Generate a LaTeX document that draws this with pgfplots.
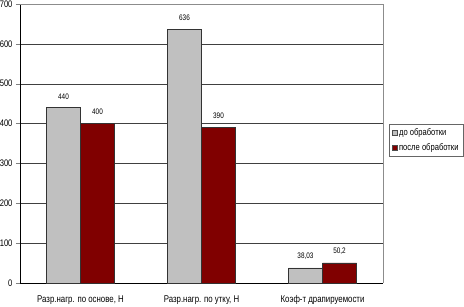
\documentclass[border=0pt]{standalone}
\usepackage{fontspec}
\setmainfont{Liberation Sans}[FakeStretch=0.8]
\usepackage{pgfplots}
\pgfplotsset{compat=1.18}
\definecolor{barsilver}{RGB}{192,192,192}
\definecolor{barmaroon}{RGB}{128,0,0}
\begin{document}
\begin{tikzpicture}
\begin{axis}[
  scale only axis, width=363pt, height=279pt,
  ybar=0pt, bar width=34pt,
  xmin=-0.5, xmax=2.5, ymin=0, ymax=700,
  axis x line*=bottom, axis y line*=left,
  axis line style={black, thin}, 
  xtick={0,1,2},
  xticklabels={{Разр.нагр. по основе, Н},{Разр.нагр. по утку, Н},{Коэф-т драпируемости}},
  x tick label style={font=\fontsize{9.8}{10}\selectfont, yshift=-5pt},
  major x tick style={draw=none},
  extra x ticks={0.5,1.5}, extra x tick labels={},
  extra x tick style={major tick length=4pt, tick style={black, thin}, grid=none},
  ytick={0,100,...,700},
  y tick label style={font=\fontsize{9.5}{10}\selectfont},
  /pgf/number format/assume math mode=true,
  tick align=outside, major tick length=4pt,
  ymajorgrids, grid style={black!75, thin},
  enlarge x limits=false,
  nodes near coords, point meta=explicit symbolic,
  every node near coord/.append style={font=\fontsize{8}{9}\selectfont, yshift=5pt},
  legend style={at={(1.0165,0.570)}, anchor=north west, draw=black!60,
    font=\fontsize{9.5}{11}\selectfont, inner sep=2.5pt, row sep=2pt},
  legend cell align=left,
  legend image code/.code={\draw[#1, draw=black!70] (0pt,-2.5pt) rectangle (5pt,2.5pt);},
  clip=false,
]
\addplot[fill=barsilver, draw=black!80] coordinates {(0,440) [440] (1,636) [636] (2,38.03) [{38,03}]};
\addplot[fill=barmaroon, draw=black!80] coordinates {(0,400) [400] (1,390) [390] (2,50.2) [{50,2}]};
\legend{до обработки, после обработки}
\draw[black!45] (rel axis cs:0,1) -- (rel axis cs:1,1) -- (rel axis cs:1,0);
\coordinate (SW) at (rel axis cs:0,0);
\coordinate (NE) at (rel axis cs:1,1);
\end{axis}
\pgfresetboundingbox
\path ([xshift=-20pt,yshift=-24pt]SW) rectangle ([xshift=81pt,yshift=4pt]NE);
\end{tikzpicture}
\end{document}
